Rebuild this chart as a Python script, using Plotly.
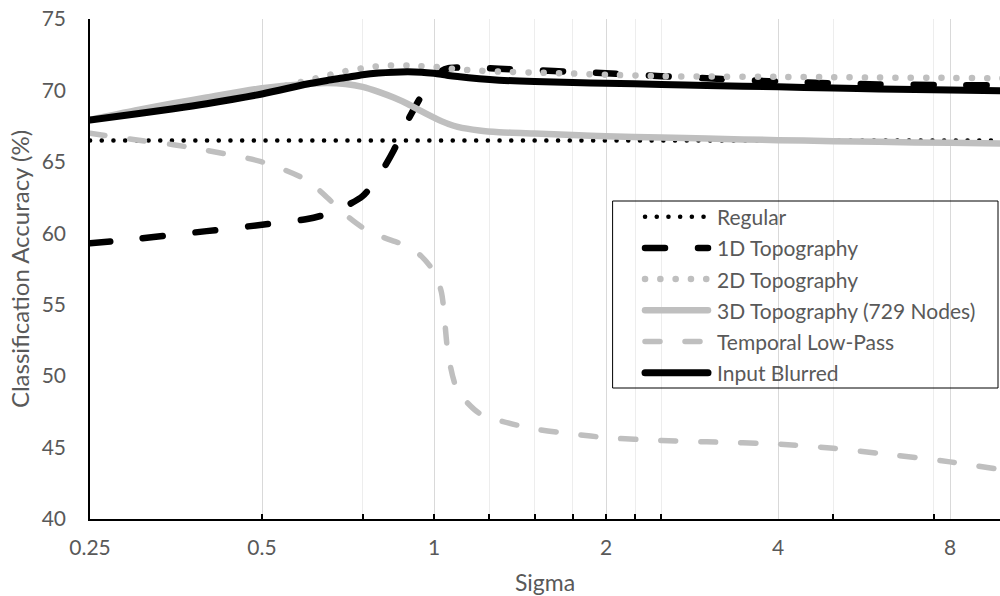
import plotly.graph_objects as go

# Sigma values at which accuracy was sampled
sigma = [0.25, 0.3, 0.35, 0.4, 0.5, 0.6, 0.65, 0.7, 0.75, 0.8, 0.85, 0.9, 0.95,
         1.0, 1.03, 1.06, 1.1, 1.2, 1.3, 1.5, 1.75, 2, 2.5, 3, 4, 5, 6, 8, 10]

# Classification accuracy (%) per method
regular_sigma = [0.25, 10]
regular = [66.5, 66.5]

topo_1d = [59.3, 59.6, 59.9, 60.15, 60.6, 61.0, 61.35, 61.9, 62.6, 64.0, 65.8, 67.9, 69.6,
           70.9, 71.35, 71.55, 71.6, 71.58, 71.52, 71.42, 71.3, 71.2, 71.0, 70.85, 70.62,
           70.5, 70.42, 70.38, 70.35]

topo_2d = [67.95, 68.45, 68.85, 69.25, 69.95, 70.7, 71.05, 71.35, 71.55, 71.7, 71.75, 71.75,
           71.7, 71.65, 71.6, 71.55, 71.48, 71.38, 71.32, 71.25, 71.18, 71.1, 71.0, 70.97,
           70.95, 70.93, 70.9, 70.88, 70.85]

topo_3d = [67.95, 68.6, 69.1, 69.5, 70.15, 70.45, 70.52, 70.45, 70.25, 69.9, 69.5, 69.05,
           68.55, 68.1, 67.85, 67.65, 67.45, 67.2, 67.08, 66.98, 66.88, 66.8, 66.7, 66.63,
           66.52, 66.45, 66.4, 66.33, 66.28]

low_pass = [67.0, 66.55, 66.2, 65.8, 65.0, 63.7, 62.5, 61.3, 60.4, 59.85, 59.45, 59.1, 58.4,
            57.3, 55.9, 51.4, 49.0, 47.4, 46.9, 46.3, 45.95, 45.7, 45.5, 45.4, 45.25, 44.95,
            44.6, 44.0, 43.4]

input_blurred = [67.93, 68.35, 68.72, 69.07, 69.75, 70.45, 70.7, 70.9, 71.1, 71.22, 71.28,
                 71.3, 71.28, 71.2, 71.13, 71.05, 70.97, 70.82, 70.72, 70.62, 70.55, 70.5,
                 70.42, 70.35, 70.25, 70.17, 70.1, 70.03, 69.98]

# Axis ticks
x_major = [0.25, 0.5, 1, 2, 4, 8]
x_major_text = ["0.25", "0.5", "1", "2", "4", "8"]
x_minor = [0.5, 0.75, 1, 1.25, 1.5, 1.75, 2, 2.25, 2.5, 5, 7.5]
y_ticks = [40, 45, 50, 55, 60, 65, 70, 75]

BLACK = "#000000"
GRAY = "#bfbfbf"
TEXT = "#595959"
FONT = "Lato, 'Open Sans', sans-serif"

series = [
    ("Regular", regular_sigma, regular, dict(color=BLACK, width=4.5, dash="0.1px,11.6px")),
    ("1D Topography", sigma, topo_1d, dict(color=BLACK, width=6.5, dash="20px,33px")),
    ("2D Topography", sigma, topo_2d, dict(color=GRAY, width=6.5, dash="0.1px,15.2px")),
    ("3D Topography (729 Nodes)", sigma, topo_3d, dict(color=GRAY, width=6.5)),
    ("Temporal Low-Pass", sigma, low_pass, dict(color=GRAY, width=5.5, dash="15px,25px")),
    ("Input Blurred", sigma, input_blurred, dict(color=BLACK, width=7)),
]

fig = go.Figure()
for name, xs, ys, line in series:
    fig.add_trace(go.Scatter(
        x=xs, y=ys, name=name, mode="lines",
        line=dict(shape="spline", smoothing=0.8, **line),
        showlegend=False, hoverinfo="skip",
    ))

# Plot area geometry (px) used to place the framed legend
L, R, T, B = 90, 1000, 19, 519


def px_x(px):
    return (px - L) / (R - L)


def px_y(py):
    return (B - py) / (B - T)


shapes = [dict(type="rect", xref="paper", yref="paper",
               x0=px_x(613), x1=px_x(998), y0=px_y(388), y1=px_y(201),
               line=dict(color=BLACK, width=1), fillcolor="rgba(0,0,0,0)", layer="above")]
annotations = []
row_y0, row_step = 216.7, 31.2
for i, (name, _, _, line) in enumerate(series):
    yy = px_y(row_y0 + i * row_step)
    shapes.append(dict(type="line", xref="paper", yref="paper",
                       x0=px_x(645), x1=px_x(708), y0=yy, y1=yy, layer="above",
                       line=dict(color=line["color"], width=line["width"],
                                 dash=line.get("dash", "solid"))))
    annotations.append(dict(xref="paper", yref="paper", x=px_x(715), y=yy,
                            xanchor="left", yanchor="middle", showarrow=False,
                            text=name, font=dict(family=FONT, size=21, color=TEXT)))

fig.update_layout(
    width=1000, height=596,
    margin=dict(l=L, r=1000 - R, t=T, b=596 - B),
    paper_bgcolor="white", plot_bgcolor="white",
    font=dict(family=FONT, size=21, color=TEXT),
    shapes=shapes, annotations=annotations,
    xaxis=dict(
        type="log",
        range=[-0.60206, -0.60206 + (R - L) / 172 * 0.30103],
        tickvals=x_major, ticktext=x_major_text,
        ticks="", showgrid=True, gridcolor="#d9d9d9", gridwidth=1,
        showline=True, linecolor=BLACK, linewidth=1.5,
        zeroline=False, ticklabelstandoff=9,
        tickfont=dict(family=FONT, size=21, color=TEXT),
        minor=dict(tickvals=x_minor, ticks="inside", ticklen=5, tickwidth=1.5,
                   tickcolor=BLACK, showgrid=True, gridcolor="#ededed", gridwidth=1),
        title=dict(text="Sigma", font=dict(family=FONT, size=23, color=TEXT), standoff=18),
    ),
    yaxis=dict(
        range=[40, 75], tickvals=y_ticks, ticks="", showgrid=False,
        showline=True, linecolor=BLACK, linewidth=1.5, zeroline=False,
        ticklabelstandoff=18,
        tickfont=dict(family=FONT, size=21, color=TEXT),
        title=dict(text="Classification Accuracy (%)",
                   font=dict(family=FONT, size=24, color=TEXT), standoff=5),
    ),
)

round_caps = (
    "var s=document.createElement('style');"
    "s.textContent='.scatterlayer .js-line, .shapelayer path{stroke-linecap:round;}';"
    "document.head.appendChild(s);"
)
fig.write_html("out.html", post_script=round_caps)
